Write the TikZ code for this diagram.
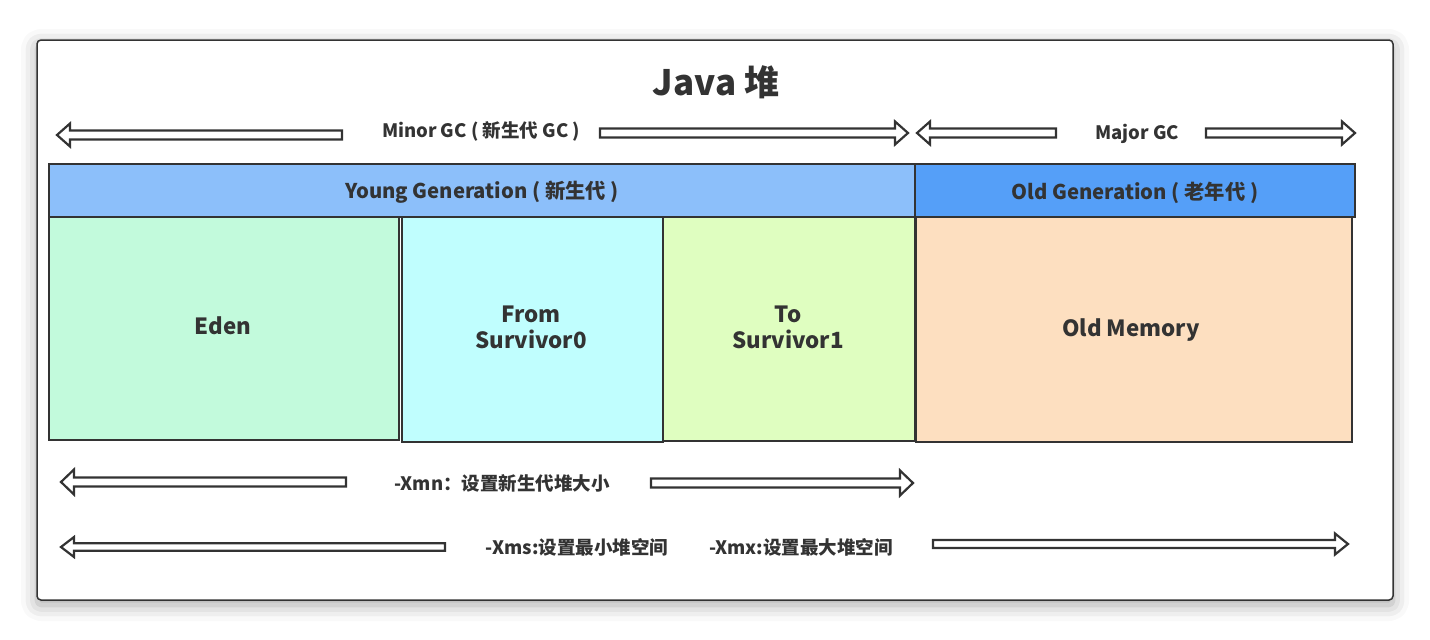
\documentclass[tikz,border=0pt]{standalone}
\usepackage{fontspec}
\setmainfont{Noto Sans CJK SC}
\usetikzlibrary{shadows.blur}
\definecolor{ink}{HTML}{333333}
\definecolor{younghd}{HTML}{8CBFFA}
\definecolor{oldhd}{HTML}{559FF8}
\definecolor{edenc}{HTML}{C2FADC}
\definecolor{fromc}{HTML}{C0FEFE}
\definecolor{toc}{HTML}{DFFEC0}
\definecolor{oldc}{HTML}{FDDFC0}
\tikzset{
  box/.style={draw=ink, line width=1.8pt},
  lbl/.style={text=ink, font=\bfseries, inner sep=0pt, align=center},
  small/.style={lbl, font=\fontsize{18.5}{22}\selectfont\bfseries},
  head/.style={lbl, font=\fontsize{20.3}{24}\selectfont\bfseries},
  area/.style={lbl, font=\fontsize{22.3}{26}\selectfont\bfseries},
  blockarrow/.style={draw=ink, fill=white, line width=2.2pt, line join=miter},
}
% left-pointing block arrow: tip x, tail x, y, shaft half, head half
\newcommand{\larrowpath}[5]{%
  \draw[blockarrow] (#1,#3) -- (#1+13,#3-#5) -- (#1+13,#3-#4) -- (#2,#3-#4) -- (#2,#3+#4) -- (#1+13,#3+#4) -- (#1+13,#3+#5) -- cycle;}
% right-pointing block arrow: tip x, tail x, y, shaft half, head half
\newcommand{\rarrowpath}[5]{%
  \draw[blockarrow] (#1,#3) -- (#1-13,#3-#5) -- (#1-13,#3-#4) -- (#2,#3-#4) -- (#2,#3+#4) -- (#1-13,#3+#4) -- (#1-13,#3+#5) -- cycle;}
\begin{document}
\begin{tikzpicture}[x=1pt,y=-1pt]
\useasboundingbox (0,0) rectangle (1430,640);
% frame
\draw[draw=ink, line width=1.5pt, fill=white, rounded corners=4pt,
  blur shadow={shadow xshift=0pt, shadow yshift=-5pt, shadow blur radius=16pt, shadow opacity=35}]
  (37,40) rectangle (1393,600);
% title
\node[lbl, font=\fontsize{35}{40}\selectfont\bfseries] (title) at (716,82) {Java 堆};
% headers
\node[box, fill=younghd, minimum width=866pt, minimum height=53pt, anchor=north west, inner sep=0pt] (young) at (48,163) {};
\node[box, fill=oldhd, minimum width=440pt, minimum height=53pt, anchor=north west, inner sep=0pt] (oldh) at (914,163) {};
\node[head] (youngt) at ([yshift=-2pt]young.center) {Young Generation ( 新生代 )};
\node[head] (oldt) at ([yshift=-2pt]oldh.center) {Old Generation ( 老年代 )};
% memory areas
\node[box, fill=edenc, minimum width=350pt, minimum height=223pt, anchor=north west, inner sep=0pt] (eden) at (48,216) {};
\node[box, fill=fromc, minimum width=261pt, minimum height=225pt, anchor=north west, inner sep=0pt] (from) at (401,216) {};
\node[box, fill=toc, minimum width=252pt, minimum height=224pt, anchor=north west, inner sep=0pt] (to) at (662,216) {};
\node[box, fill=oldc, minimum width=436pt, minimum height=225pt, anchor=north west, inner sep=0pt] (oldm) at (915,216) {};
\node[area] (edent) at (223,326) {Eden};
\node[area] (fromt) at (531,327) {From\\Survivor0};
\node[area] (tot) at (788,327) {To\\Survivor1};
\node[area] (oldmt) at (1131,330) {Old Memory};
% GC arrows
\node[small] (minor) at (481,131) {Minor GC ( 新生代 GC )};
\larrowpath{57}{342}{135}{4.5}{11.5}
\rarrowpath{908}{600}{133}{4.5}{11.5}
\node[small] (major) at (1137,134) {Major GC};
\larrowpath{917}{1056}{133}{4.5}{11.5}
\rarrowpath{1355}{1206}{133}{4.5}{11.5}
% Xmn
\node[small] (xmn) at (502,483) {-Xmn：设置新生代堆大小};
\larrowpath{61}{346}{482}{4.5}{12.5}
\rarrowpath{913}{651}{483}{4.5}{12.5}
% Xms / Xmx
\node[small] (xms) at (577,547) {-Xms:设置最小堆空间};
\node[small] (xmx) at (801,547) {-Xmx:设置最大堆空间};
\larrowpath{61}{445}{547}{3.8}{10}
\rarrowpath{1348}{933}{544}{4}{10.5}
\end{tikzpicture}
\end{document}
